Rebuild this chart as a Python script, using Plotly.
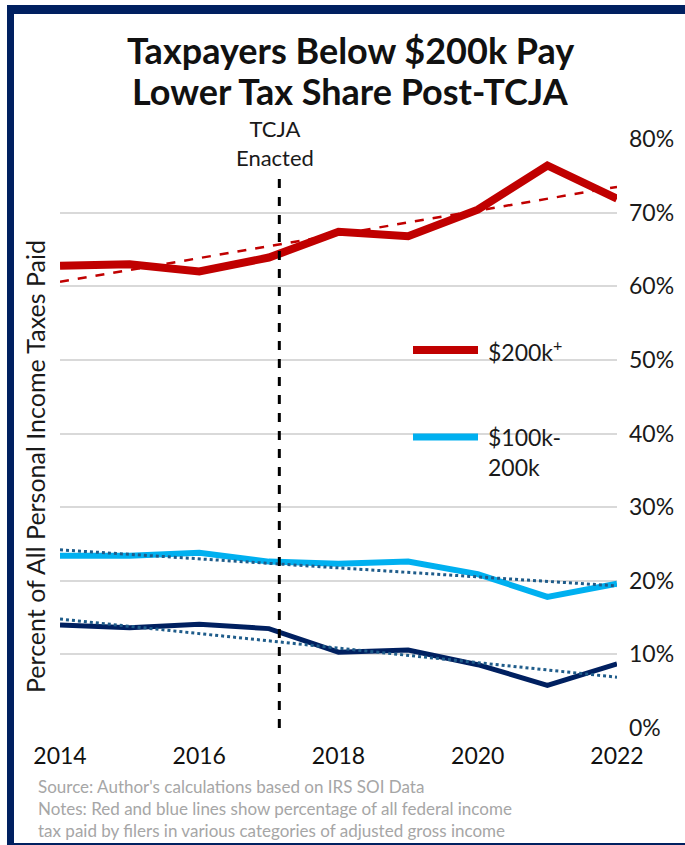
import plotly.graph_objects as go

# ---- data ----
years = [2014, 2015, 2016, 2017, 2018, 2019, 2020, 2021, 2022]
share_200k_plus = [62.8, 63.0, 62.0, 63.9, 67.4, 66.8, 70.4, 76.4, 71.9]
share_100k_200k = [23.4, 23.4, 23.8, 22.6, 22.3, 22.6, 20.9, 17.8, 19.6]
share_below_100k = [14.0, 13.6, 14.1, 13.5, 10.3, 10.6, 8.6, 5.8, 8.7]

trend_years = [2014, 2022]
trend_200k_plus = [60.6, 73.5]
trend_100k_200k = [24.2, 19.3]
trend_below_100k = [14.8, 6.9]

tcja_year = 2017.15
tcja_top = 74.7

y_ticks = [0, 10, 20, 30, 40, 50, 60, 70, 80]
y_ticklabels = [f"{v}%" for v in y_ticks]
x_ticks = [2014, 2016, 2018, 2020, 2022]

title_lines = ["Taxpayers Below $200k Pay", "Lower Tax Share Post-TCJA"]
note_lines = [
    "Source: Author's calculations based on IRS SOI Data",
    "Notes: Red and blue lines show percentage of all federal income",
    "tax paid by filers in various categories of adjusted gross income",
]

# ---- layout geometry (pixels) ----
W, H = 685, 845
L, R, T, B = 60, 617, 139, 728
PW, PH = R - L, B - T


def px(x):
    return (x - L) / PW


def py(y):
    return (B - y) / PH


RED = "#c00000"
LBLUE = "#00b0f0"
NAVY = "#002060"
TREND_BLUE = "#1f5c8a"
FONT = "Lato"
TXT = "#1a1a1a"

fig = go.Figure()

fig.add_trace(go.Scatter(x=years, y=share_below_100k, mode="lines",
                         line=dict(color=NAVY, width=5), showlegend=False))
fig.add_trace(go.Scatter(x=years, y=share_100k_200k, mode="lines",
                         line=dict(color=LBLUE, width=6), showlegend=False))
fig.add_trace(go.Scatter(x=years, y=share_200k_plus, mode="lines",
                         line=dict(color=RED, width=8), showlegend=False))

fig.add_trace(go.Scatter(x=trend_years, y=trend_200k_plus, mode="lines",
                         line=dict(color=RED, width=2.5, dash="dash"), showlegend=False))
fig.add_trace(go.Scatter(x=trend_years, y=trend_100k_200k, mode="lines",
                         line=dict(color=TREND_BLUE, width=3, dash="dot"), showlegend=False))
fig.add_trace(go.Scatter(x=trend_years, y=trend_below_100k, mode="lines",
                         line=dict(color=TREND_BLUE, width=3, dash="dot"), showlegend=False))

# TCJA vertical line
fig.add_trace(go.Scatter(x=[tcja_year, tcja_year], y=[0, tcja_top], mode="lines",
                         line=dict(color="black", width=3, dash="dash"), showlegend=False))

shapes = []
# legend lines
shapes.append(dict(type="line", xref="paper", yref="paper",
                   x0=px(413), x1=px(478), y0=py(350), y1=py(350),
                   line=dict(color=RED, width=8)))
shapes.append(dict(type="line", xref="paper", yref="paper",
                   x0=px(413), x1=px(478), y0=py(437), y1=py(437),
                   line=dict(color=LBLUE, width=7)))
# border
shapes.append(dict(type="rect", xref="paper", yref="paper", layer="above",
                   x0=px(7), x1=px(690), y0=py(14), y1=py(5),
                   fillcolor=NAVY, line=dict(width=0)))
shapes.append(dict(type="rect", xref="paper", yref="paper", layer="above",
                   x0=px(7), x1=px(14), y0=py(850), y1=py(5),
                   fillcolor=NAVY, line=dict(width=0)))
shapes.append(dict(type="rect", xref="paper", yref="paper", layer="above",
                   x0=px(7), x1=px(690), y0=py(850), y1=py(843),
                   fillcolor=NAVY, line=dict(width=0)))

annotations = []
for i, line in enumerate(title_lines):
    annotations.append(dict(xref="paper", yref="paper", x=px(350), y=py(50 + 41 * i),
                            text=f"<b>{line}</b>", showarrow=False,
                            xanchor="center", yanchor="middle",
                            font=dict(family=FONT, size=36, color="#111111")))
annotations.append(dict(xref="paper", yref="paper", x=px(275), y=py(143),
                        text="TCJA<br>Enacted", showarrow=False,
                        xanchor="center", yanchor="middle",
                        font=dict(family=FONT, size=22, color=TXT)))
annotations.append(dict(xref="paper", yref="paper", x=px(486), y=py(350),
                        text="$200k<sup>+</sup>", showarrow=False,
                        xanchor="left", yanchor="middle",
                        font=dict(family=FONT, size=23, color=TXT)))
annotations.append(dict(xref="paper", yref="paper", x=px(486), y=py(452),
                        text="$100k-<br>200k", showarrow=False, align="left",
                        xanchor="left", yanchor="middle",
                        font=dict(family=FONT, size=23, color=TXT)))
annotations.append(dict(xref="paper", yref="paper", x=px(35), y=py(467),
                        text="Percent of All Personal Income Taxes Paid",
                        showarrow=False, textangle=-90,
                        xanchor="center", yanchor="middle",
                        font=dict(family=FONT, size=25, color=TXT)))
annotations.append(dict(xref="paper", yref="paper", x=px(36), y=py(808),
                        text="<br>".join(note_lines), showarrow=False, align="left",
                        xanchor="left", yanchor="middle",
                        font=dict(family=FONT, size=17, color="#a6a6a6")))

fig.update_layout(
    width=W, height=H,
    margin=dict(l=L, r=W - R, t=T, b=H - B),
    paper_bgcolor="white", plot_bgcolor="white",
    font=dict(family=FONT, color=TXT),
    shapes=shapes, annotations=annotations,
    showlegend=False,
    xaxis=dict(range=[2014, 2022], tickvals=x_ticks, showgrid=False,
               zeroline=False, showline=False, ticks="", ticklabelstandoff=12,
               tickfont=dict(family=FONT, size=23, color="#111111")),
    yaxis=dict(range=[0, 80], tickvals=y_ticks, ticktext=y_ticklabels,
               side="right", showgrid=True, gridcolor="#d9d9d9", gridwidth=1.5,
               zeroline=False, showline=False, ticks="", ticklabelstandoff=11,
               tickfont=dict(family=FONT, size=23, color=TXT)),
)

fig.write_html("out.html", config={"displayModeBar": False},
               post_script="document.body.style.margin='0';")
